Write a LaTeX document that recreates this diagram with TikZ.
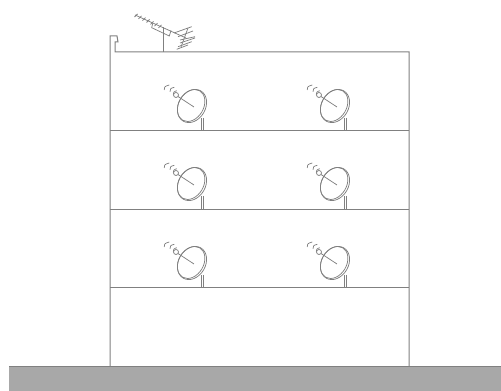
\documentclass[tikz,border=0pt]{standalone}
\definecolor{ln}{gray}{0.5}
\definecolor{gr}{gray}{0.66}
\tikzset{
  wall/.style={draw=ln,line width=0.75pt},
  thin line/.style={draw=ln,line width=0.55pt},
  dishpic/.pic={
    % stand
    \draw[thin line] (9,12) -- (9,25) (11.5,12) -- (11.5,25);
    % dish
    \draw[thin line,fill=white,rotate=60] (0,0) ellipse [x radius=17.5,y radius=13.5];
    \draw[thin line,rotate=60] (0,-1) ellipse [x radius=17,y radius=12.5];
    % arm
    \draw[thin line] (-14,-9.5) -- (2,1);
    \draw[thin line,fill=white] (-16,-11) circle (2.5);
    % waves
    \draw[thin line] (-27.7,-16) .. controls (-27.5,-19.5) .. (-22.7,-21);
    \draw[thin line] (-22,-14.3) .. controls (-21.8,-17.5) .. (-17.7,-18.7);
    \draw[thin line] (-18.7,-11.5) .. controls (-18.5,-14) .. (-15.3,-15.3);
  }
}
\begin{document}
\begin{tikzpicture}[x=0.75pt,y=-0.75pt]
\useasboundingbox (0,0) rectangle (501,391);
\fill[white] (0,0) rectangle (501,391);
\coordinate (g1) at (9,367);
\coordinate (g2) at (501,367);
\coordinate (g3) at (501,391);
\coordinate (g4) at (9,391);
\fill[gr] (g1) -- (g2) -- (g3) -- (g4) -- cycle;
\draw[wall] (g1) -- (g2);
\draw[wall] (110,367) -- (110,36) -- (117,36) -- (118,42) -- (115,42) -- (115,52) -- (409,52) -- (409,367);
\draw[wall] (110,131) -- (409,131);
\draw[wall] (110,210) -- (409,210);
\draw[wall] (110,288) -- (409,288);
% antenna
\draw[thin line] (163,52) -- (163,27);
\draw[thin line] (135,15) -- (186,38);
\draw[thin line] (152.7,23.3) -- (151.7,27.7) -- (169.3,36) -- (171,30.5);
\foreach \x/\y in {136/15.5,140/17.3,144/19.1,148/21,152/22.8,156/24.6,160/26.4}
  \draw[thin line] (\x-1.5,\y+1.5) -- (\x+1.5,\y-1.5);
\draw[thin line] (174,33) -- (191.7,26.7) (178,36.7) -- (193,31) (180,40) -- (195,36.7) (180,43) -- (195,38) (178,46.7) -- (191.7,41.7) (176.7,49.3) -- (188,45);
\draw[thin line] (188,28) -- (181,47);
% dishes
\foreach \px in {192,335} \foreach \py in {106,184,263}
  \pic at (\px,\py) {dishpic};
\end{tikzpicture}
\end{document}
